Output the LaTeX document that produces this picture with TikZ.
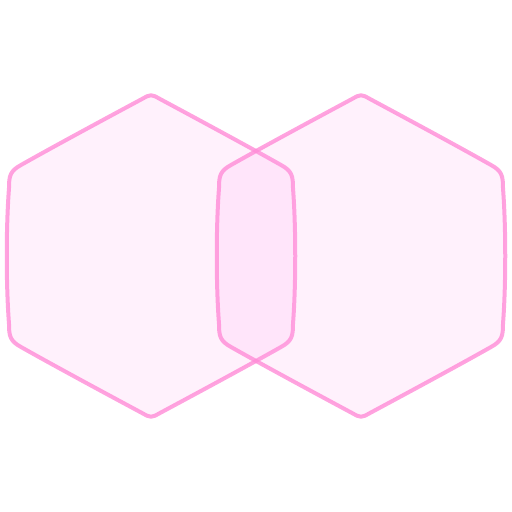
\documentclass[tikz,border=0pt]{standalone}
\usepackage{tikz}
\definecolor{hexline}{RGB}{255,140,215}
\definecolor{hexfill}{RGB}{255,160,236}
\tikzset{
  hexa/.style={draw=hexline, draw opacity=0.8, line width=4pt, line join=round,
    fill=hexfill, fill opacity=0.15}
}
\begin{document}
\begin{tikzpicture}[x=1pt, y=1pt]
\useasboundingbox (0,0) rectangle (512,512);
% ---- two overlapping rounded hexagons ----
\foreach \cx in {151,361}{
  \begin{scope}[shift={(\cx,256)}]
  \draw[hexa] (-9,157) .. controls (0,162) .. (9,157)
    .. controls (50,135) and (100,108) .. (130,91)
    .. controls (141,85) and (142,80) .. (142,68)
    .. controls (145,28) and (145,-28) .. (142,-68)
    .. controls (142,-80) and (141,-85) .. (130,-91)
    .. controls (100,-108) and (50,-135) .. (9,-157)
    .. controls (0,-162) .. (-9,-157)
    .. controls (-50,-135) and (-100,-108) .. (-130,-91)
    .. controls (-141,-85) and (-142,-80) .. (-142,-68)
    .. controls (-145,-28) and (-145,28) .. (-142,68)
    .. controls (-142,80) and (-141,85) .. (-130,91)
    .. controls (-100,108) and (-50,135) .. (-9,157) -- cycle;
  \end{scope}
}
\end{tikzpicture}
\end{document}
